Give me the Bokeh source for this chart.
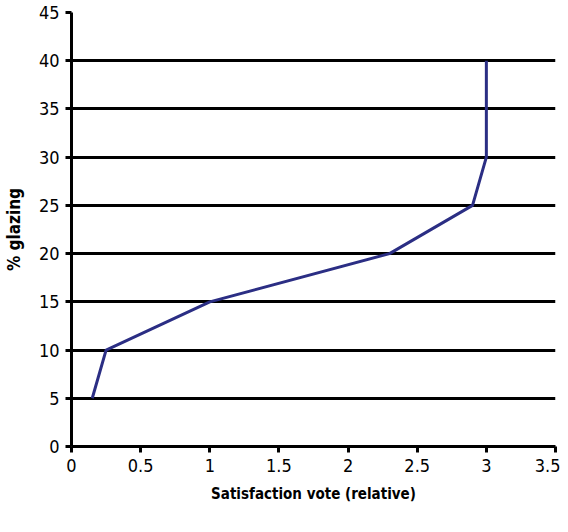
from bokeh.plotting import figure
from bokeh.models import FixedTicker, Grid, Range1d
from bokeh.embed import file_html
from bokeh.resources import INLINE

satisfaction = [0.15, 0.25, 1.0, 2.3, 2.9, 3.0, 3.0]
glazing = [5, 10, 15, 20, 25, 30, 40]
x_ticks = [0, 0.5, 1, 1.5, 2, 2.5, 3, 3.5]
y_ticks = [0, 5, 10, 15, 20, 25, 30, 35, 40, 45]

FONT = "DejaVu Sans Condensed, Liberation Sans Narrow, Arial Narrow, sans-serif"

p = figure(frame_width=484, frame_height=434, output_backend="svg",
           toolbar_location=None, x_range=Range1d(0, 3.5), y_range=Range1d(0, 45),
           min_border_left=60, min_border_top=12, min_border_right=5, min_border_bottom=66)
p.outline_line_color = None
p.background_fill_color = "white"

p.xaxis.ticker = FixedTicker(ticks=x_ticks)
p.yaxis.ticker = FixedTicker(ticks=y_ticks)
p.xaxis.major_label_overrides = {0: "0", 0.5: "0.5", 1: "1", 1.5: "1.5", 2: "2",
                                 2.5: "2.5", 3: "3", 3.5: "3.5"}
for ax in (p.xaxis[0], p.yaxis[0]):
    ax.axis_line_color = "black"
    ax.axis_line_width = 3
    ax.major_tick_line_color = "black"
    ax.major_tick_line_width = 3
    ax.major_tick_out = 6
    ax.major_tick_in = 0
    ax.minor_tick_line_color = None
    ax.major_label_text_font = FONT
    ax.major_label_text_font_size = "18px"
    ax.major_label_text_color = "black"
    ax.axis_label_text_font = FONT
    ax.axis_label_text_font_style = "bold"
    ax.axis_label_text_color = "black"

p.xaxis.axis_label = "Satisfaction vote (relative)"
p.yaxis.axis_label = "% glazing"
p.xaxis.axis_label_text_font_size = "15px"
p.yaxis.axis_label_text_font_size = "17px"
p.xaxis.major_label_standoff = 6
p.xaxis.axis_label_standoff = 10
p.yaxis.major_label_standoff = 6
p.yaxis.axis_label_standoff = 12

p.xgrid.grid_line_color = None
p.ygrid.ticker = FixedTicker(ticks=y_ticks[1:-1])
p.ygrid.grid_line_color = "black"
p.ygrid.grid_line_width = 3

top_grid = Grid(dimension=1, ticker=FixedTicker(ticks=y_ticks[-1:]),
                grid_line_color="#c8c8c8", grid_line_width=1)
p.add_layout(top_grid)

p.line(satisfaction, glazing, line_color="#2b2e84", line_width=3)

open("out.html", "w").write(file_html(p, INLINE))
